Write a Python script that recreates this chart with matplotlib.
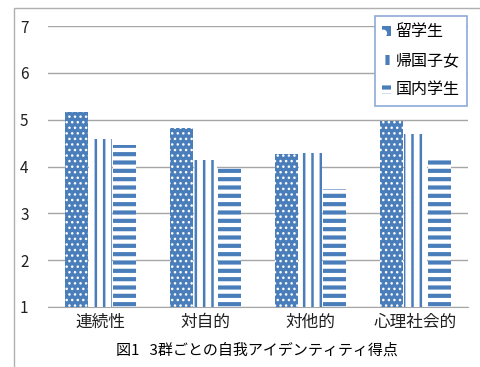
import matplotlib.pyplot as plt
import matplotlib as mpl
import numpy as np
from matplotlib.patches import Rectangle

plt.rcParams['font.family'] = ['Noto Sans CJK JP', 'DejaVu Sans']

categories = ['連続性', '対自的', '対他的', '心理社会的']
groups = ['留学生', '帰国子女', '国内学生']
ryugaku = [5.16, 4.82, 4.27, 4.98]
kikoku = [4.58, 4.13, 4.28, 4.70]
kokunai = [4.45, 3.96, 3.52, 4.20]

blue = '#4a7ebb'
x = np.arange(len(categories))
w = 0.22

fig = plt.figure(figsize=(4.8, 3.67), dpi=100)
ax = fig.add_axes([0.1, 0.1635, 0.875, 0.7655])

# outer chart frame
fig.patches.append(Rectangle((14 / 480, -0.1), 1.2, 1 - 8 / 367 + 0.1,
                             transform=fig.transFigure, fill=False,
                             edgecolor='#b0b0b0', linewidth=1))

mpl.rcParams['hatch.linewidth'] = 1.0
b1 = ax.bar(x - 0.225, np.array(ryugaku) - 1, w, bottom=1, color=blue,
            edgecolor='white', linewidth=0, hatch='...', label=groups[0], zorder=3)
h1 = Rectangle((0, 0), 1, 1, facecolor=blue, edgecolor='white', linewidth=0, hatch='.')
mpl.rcParams['hatch.linewidth'] = 1.8
b2 = ax.bar(x, np.array(kikoku) - 1, w, bottom=1, color='white',
            edgecolor=blue, linewidth=0, hatch='||', label=groups[1], zorder=3)
mpl.rcParams['hatch.linewidth'] = 3.0
b3 = ax.bar(x + 0.225, np.array(kokunai) - 1, w, bottom=1, color='white',
            edgecolor=blue, linewidth=0, hatch='--', label=groups[2], zorder=3)

ax.set_xlim(-0.5, 3.5)
ax.set_ylim(1, 7)
ax.set_yticks(range(1, 8))
ax.yaxis.grid(True, color='#a6a6a6', linewidth=1)
ax.set_axisbelow(True)
for s in ['left', 'right', 'top']:
    ax.spines[s].set_visible(False)
ax.spines['bottom'].set_color('#a6a6a6')
ax.tick_params(length=0, labelsize=11, colors='#202020')
ax.tick_params(axis='y', pad=14)
ax.set_xticks(x)
ax.set_xticklabels(categories, fontsize=12)
ax.tick_params(axis='x', pad=5)

fig.text(0.535, 0.035, '図1   3群ごとの自我アイデンティティ得点', ha='center', fontsize=10.8)

leg = ax.legend([h1, b2, b3], groups, loc='upper right',
                bbox_to_anchor=(0.997, 1.035), fontsize=11.5,
                fancybox=False, framealpha=1, edgecolor='#8eaad8',
                handlelength=0.55, handleheight=0.55, handletextpad=0.3,
                borderpad=0.45, labelspacing=0.75, borderaxespad=0)
leg.get_frame().set_linewidth(1.2)

fig.savefig('out.png', dpi=100)
